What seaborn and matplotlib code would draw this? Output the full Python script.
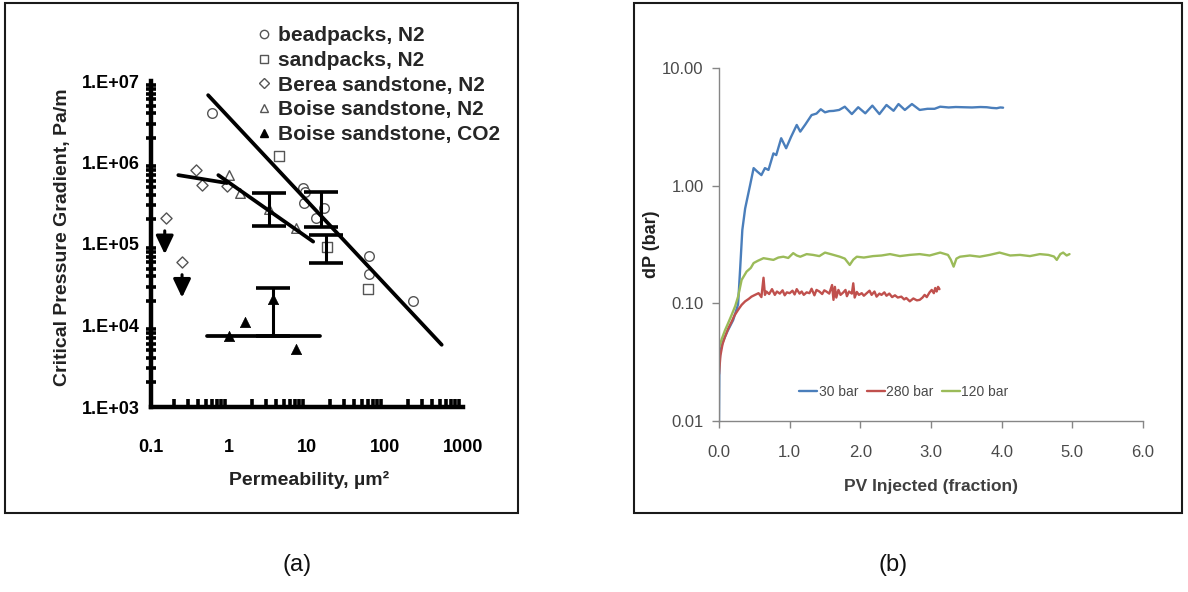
import numpy as np
import pandas as pd
import seaborn as sns
import matplotlib
matplotlib.use("Agg")
import matplotlib.pyplot as plt
from matplotlib.lines import Line2D
from matplotlib.patches import Rectangle
from matplotlib.ticker import LogLocator, NullLocator
from matplotlib import font_manager

# ---------------- data: panel (a) ----------------
bead_k = [0.61, 8.9, 9.5, 9.2, 16.4, 13.2, 62.5, 63.0, 230.0]
bead_g = [4.1e6, 4.9e5, 4.4e5, 3.2e5, 2.8e5, 2.1e5, 7.1e4, 4.3e4, 2.0e4]
sand_k = [4.4, 18.0, 61.0]
sand_g = [1.2e6, 9.1e4, 2.8e4]
berea_k = [0.38, 0.45, 0.156, 0.25, 0.93]
berea_g = [8.1e5, 5.3e5, 2.1e5, 6.0e4, 5.1e5]
boise_n2_k = [1.0, 1.4, 3.3, 7.3]
boise_n2_g = [7.0e5, 4.2e5, 2.7e5, 1.55e5]
boise_co2_k = [1.6, 1.0, 3.7, 7.3]
boise_co2_g = [1.1e4, 7.4e3, 2.1e4, 5.1e3]

err_k = [3.3, 15.0, 17.5, 3.7]
err_mid = [2.65e5, 2.6e5, 8.7e4, 1.5e4]
err_lo = [1.66e5, 1.6e5, 5.8e4, 7.4e3]
err_hi = [4.2e5, 4.3e5, 1.3e5, 2.9e4]

arrow_k = [0.15, 0.25]
arrow_from = [1.45e5, 4.2e4]
arrow_to = [7.5e4, 2.2e4]

fit_all_k = [0.54, 533.0]
fit_all_g = [6.7e6, 5.8e3]
fit_boise_k = [0.73, 12.0]
fit_boise_g = [7.0e5, 1.07e5]
fit_berea_k = [0.224, 0.94]
fit_berea_g = [7.0e5, 5.6e5]
fit_co2_k = [0.52, 14.7]
fit_co2_g = [7.5e3, 7.5e3]

a_xticks = [0.1, 1, 10, 100, 1000]
a_xticklabels = ["0.1", "1", "10", "100", "1000"]
a_yticks = [1e3, 1e4, 1e5, 1e6, 1e7]
a_yticklabels = ["1.E+03", "1.E+04", "1.E+05", "1.E+06", "1.E+07"]
a_legend = ["beadpacks, N2", "sandpacks, N2", "Berea sandstone, N2",
            "Boise sandstone, N2", "Boise sandstone, CO2"]

# ---------------- data: panel (b) ----------------
pv_30 = [0.00, 0.005, 0.02, 0.06, 0.12, 0.20, 0.27, 0.30, 0.33, 0.37,
         0.44, 0.49, 0.54, 0.60, 0.65, 0.70, 0.77, 0.81, 0.88, 0.95,
         1.02, 1.10, 1.15, 1.22, 1.31, 1.38, 1.44, 1.50, 1.56, 1.62,
         1.70, 1.78, 1.88, 1.97, 2.07, 2.17, 2.27, 2.37, 2.47, 2.54,
         2.63, 2.73, 2.84, 2.95, 3.05, 3.13, 3.25, 3.35, 3.46, 3.58,
         3.70, 3.79, 3.86, 3.93, 3.98, 4.02]
dp_30 = [0.010, 0.030, 0.040, 0.048, 0.058, 0.072, 0.098, 0.20, 0.42, 0.64,
         1.01, 1.41, 1.32, 1.23, 1.41, 1.36, 1.88, 1.82, 2.53, 2.08,
         2.60, 3.28, 2.88, 3.30, 3.98, 4.10, 4.46, 4.20, 4.30, 4.32,
         4.40, 4.69, 4.06, 4.64, 4.12, 4.79, 4.06, 4.85, 4.33, 4.94,
         4.40, 4.94, 4.40, 4.50, 4.50, 4.69, 4.62, 4.66, 4.64, 4.62,
         4.66, 4.64, 4.58, 4.55, 4.62, 4.60]

pv_280 = [0.00, 0.02, 0.05, 0.085, 0.13, 0.18, 0.22, 0.27, 0.32, 0.37,
          0.42, 0.46, 0.51, 0.56, 0.60, 0.63, 0.65, 0.67, 0.71, 0.75,
          0.79, 0.82, 0.86, 0.90, 0.93, 0.96, 1.00, 1.04, 1.07, 1.10,
          1.14, 1.17, 1.20, 1.24, 1.28, 1.31, 1.35, 1.38, 1.42, 1.46,
          1.49, 1.52, 1.56, 1.60, 1.62, 1.64, 1.66, 1.69, 1.72, 1.76,
          1.79, 1.81, 1.84, 1.88, 1.90, 1.92, 1.95, 1.98, 2.02, 2.05,
          2.09, 2.13, 2.16, 2.20, 2.23, 2.27, 2.30, 2.34, 2.37, 2.41,
          2.45, 2.49, 2.53, 2.58, 2.62, 2.65, 2.70, 2.75, 2.80, 2.84,
          2.88, 2.91, 2.94, 2.98, 3.01, 3.04, 3.06, 3.08, 3.10, 3.12]
dp_280 = [0.025, 0.036, 0.045, 0.052, 0.061, 0.070, 0.079, 0.088, 0.097, 0.104,
          0.109, 0.114, 0.118, 0.122, 0.113, 0.165, 0.118, 0.126, 0.120, 0.132,
          0.118, 0.126, 0.121, 0.129, 0.117, 0.124, 0.122, 0.128, 0.119, 0.132,
          0.121, 0.126, 0.118, 0.124, 0.122, 0.133, 0.117, 0.130, 0.126, 0.120,
          0.129, 0.126, 0.121, 0.143, 0.107, 0.138, 0.112, 0.130, 0.118, 0.124,
          0.130, 0.115, 0.126, 0.121, 0.148, 0.112, 0.125, 0.118, 0.122, 0.116,
          0.122, 0.128, 0.118, 0.126, 0.114, 0.121, 0.118, 0.124, 0.116, 0.121,
          0.113, 0.117, 0.112, 0.114, 0.108, 0.111, 0.104, 0.110, 0.106, 0.107,
          0.112, 0.118, 0.113, 0.124, 0.130, 0.122, 0.135, 0.126, 0.138, 0.132]

pv_120 = [0.00, 0.04, 0.085, 0.13, 0.18, 0.23, 0.27, 0.32, 0.39, 0.45,
          0.49, 0.55, 0.63, 0.70, 0.77, 0.84, 0.91, 0.98, 1.05, 1.10,
          1.15, 1.24, 1.33, 1.42, 1.50, 1.60, 1.71, 1.78, 1.85, 1.90,
          1.95, 2.05, 2.18, 2.30, 2.42, 2.56, 2.70, 2.84, 2.98, 3.13,
          3.24, 3.28, 3.32, 3.36, 3.41, 3.55, 3.69, 3.83, 3.97, 4.12,
          4.26, 4.40, 4.54, 4.66, 4.74, 4.78, 4.83, 4.87, 4.92, 4.96]
dp_120 = [0.042, 0.050, 0.059, 0.068, 0.080, 0.095, 0.114, 0.158, 0.186, 0.200,
          0.220, 0.230, 0.242, 0.238, 0.234, 0.245, 0.249, 0.243, 0.267, 0.255,
          0.249, 0.262, 0.258, 0.252, 0.270, 0.260, 0.249, 0.240, 0.212, 0.235,
          0.249, 0.245, 0.252, 0.255, 0.262, 0.252, 0.258, 0.262, 0.255, 0.270,
          0.258, 0.235, 0.205, 0.240, 0.249, 0.255, 0.249, 0.258, 0.270, 0.255,
          0.258, 0.252, 0.262, 0.258, 0.250, 0.234, 0.262, 0.270, 0.255, 0.262]

b_series = ["30 bar", "280 bar", "120 bar"]
b_colors = ["#4a7ebb", "#c0504d", "#9bbb59"]
b_xticks = [0, 1, 2, 3, 4, 5, 6]
b_yticks = [0.01, 0.1, 1, 10]

# ---------------- style ----------------
sns.set_theme(style="white")
names = {f.name for f in font_manager.fontManager.ttflist}
SANS = "Liberation Sans" if "Liberation Sans" in names else "DejaVu Sans"
NARROW = "Liberation Sans Narrow" if "Liberation Sans Narrow" in names else SANS
plt.rcParams["font.family"] = [SANS, "DejaVu Sans"]

W, H = 1188, 592
fig = plt.figure(figsize=(W / 100, H / 100), dpi=100)

# ================= panel (a) =================
ax_a = fig.add_axes([151 / W, 1 - 407 / H, 312 / W, 326 / H])
ax_a.set_xscale("log")
ax_a.set_yscale("log")

for kx, ky, mk in [(bead_k, bead_g, "o"), (sand_k, sand_g, "s"),
                   (berea_k, berea_g, "D"), (boise_n2_k, boise_n2_g, "^")]:
    sz = 32 if mk == "D" else 48
    sns.scatterplot(x=kx, y=ky, marker=mk, s=sz, color="white",
                    edgecolor="#555555", linewidth=1.0, ax=ax_a, zorder=3)
sns.scatterplot(x=boise_co2_k, y=boise_co2_g, marker="^", s=55, color="black",
                edgecolor="black", linewidth=0.5, ax=ax_a, zorder=3)

for fxv, fyv in [(fit_all_k, fit_all_g), (fit_boise_k, fit_boise_g),
                 (fit_berea_k, fit_berea_g), (fit_co2_k, fit_co2_g)]:
    sns.lineplot(x=fxv, y=fyv, color="black", lw=2.7, ax=ax_a,
                 estimator=None, sort=False, zorder=4)

mid = np.array(err_mid)
ax_a.errorbar(err_k, mid, yerr=[mid - np.array(err_lo), np.array(err_hi) - mid],
              fmt="none", ecolor="black", elinewidth=2.2, capsize=12, capthick=2.6,
              zorder=5)

for xk, y0, y1 in zip(arrow_k, arrow_from, arrow_to):
    ax_a.annotate("", xy=(xk, y1), xytext=(xk, y0),
                  arrowprops=dict(arrowstyle="-|>,head_width=0.38,head_length=0.8",
                                  color="black", lw=2.2, mutation_scale=14,
                                  shrinkA=0, shrinkB=0))

ax_a.set_xlim(0.1, 1000)
ax_a.set_ylim(1e3, 1e7)
ax_a.set_xticks(a_xticks, labels=a_xticklabels, fontweight="bold", fontsize=13)
ax_a.set_yticks(a_yticks, labels=a_yticklabels, fontweight="bold", fontsize=13)
ax_a.xaxis.set_minor_locator(LogLocator(base=10, subs=np.arange(2, 10), numticks=20))
ax_a.yaxis.set_minor_locator(LogLocator(base=10, subs=np.arange(2, 10), numticks=20))
ax_a.tick_params(axis="both", which="major", direction="inout", length=12,
                 width=2.6, color="black", labelcolor="black")
ax_a.tick_params(axis="x", which="major", pad=17)
ax_a.tick_params(axis="y", which="major", pad=2)
ax_a.tick_params(axis="y", which="minor", direction="inout", length=7, width=2.6,
                 color="black", left=True)
ax_a.tick_params(axis="x", which="minor", direction="in", length=6, width=2.6,
                 color="black", bottom=True)
for s in ["top", "right"]:
    ax_a.spines[s].set_visible(False)
for s in ["left", "bottom"]:
    ax_a.spines[s].set_color("black")
    ax_a.spines[s].set_linewidth(3.2)
ax_a.set_facecolor("none")

ax_a.set_xlabel("Permeability, \u00b5m\u00b2", fontsize=14, fontweight="bold",
                color="#222222")
ax_a.xaxis.set_label_coords(0.506, -0.195)
ax_a.set_ylabel("Critical Pressure Gradient, Pa/m", fontsize=14,
                fontweight="bold", color="#222222")
ax_a.yaxis.set_label_coords(-0.255, 0.52)

handles = [
    Line2D([], [], ls="none", marker="o", ms=6, mfc="white", mec="#555555", mew=1),
    Line2D([], [], ls="none", marker="s", ms=6, mfc="white", mec="#555555", mew=1),
    Line2D([], [], ls="none", marker="D", ms=5, mfc="white", mec="#555555", mew=1),
    Line2D([], [], ls="none", marker="^", ms=6, mfc="white", mec="#555555", mew=1),
    Line2D([], [], ls="none", marker="^", ms=6, mfc="black", mec="black", mew=1),
]
leg_a = ax_a.legend(handles, a_legend, loc="upper left",
                    bbox_to_anchor=(258 / W, 1 - 26 / H),
                    bbox_transform=fig.transFigure, frameon=False,
                    prop=dict(family=SANS, weight="bold", size=15),
                    handlelength=0.6, handletextpad=0.35, labelspacing=0.28,
                    borderpad=0, borderaxespad=0)

# ================= panel (b) =================
ax_b = fig.add_axes([719 / W, 1 - 421 / H, 424 / W, 353 / H])
for xs, ys, lab, col in [(pv_30, dp_30, b_series[0], b_colors[0]),
                         (pv_280, dp_280, b_series[1], b_colors[1]),
                         (pv_120, dp_120, b_series[2], b_colors[2])]:
    sns.lineplot(x=xs, y=ys, color=col, lw=1.7, label=lab, ax=ax_b,
                 estimator=None, sort=False)
ax_b.set_yscale("log")
ax_b.set_xlim(0, 6)
ax_b.set_ylim(0.01, 10)
ax_b.set_xticks(b_xticks, labels=["%.1f" % v for v in b_xticks],
                family=NARROW, fontsize=12)
ax_b.set_yticks(b_yticks, labels=["%.2f" % v for v in b_yticks],
                family=NARROW, fontsize=12)
ax_b.yaxis.set_minor_locator(NullLocator())
ax_b.tick_params(axis="both", which="major", direction="out", length=5, width=1,
                 color="#868686", labelcolor="#4a4a4a", left=True, bottom=True)
ax_b.tick_params(axis="x", pad=12)
ax_b.tick_params(axis="y", pad=6)
for s in ["top", "right"]:
    ax_b.spines[s].set_visible(False)
for s in ["left", "bottom"]:
    ax_b.spines[s].set_color("#868686")
    ax_b.spines[s].set_linewidth(1.0)
ax_b.set_facecolor("none")
ax_b.set_xlabel("PV Injected (fraction)", fontsize=12.5, fontweight="bold",
                family=NARROW, color="#404040")
ax_b.xaxis.set_label_coords(0.5, -0.165)
ax_b.set_ylabel("dP (bar)", fontsize=13, fontweight="bold", family=SANS,
                color="#202020")
ax_b.yaxis.set_label_coords(-0.138, 0.5)
ax_b.legend(loc="center", bbox_to_anchor=(0.436, 0.082), ncol=3, frameon=False,
            handlelength=1.3, handletextpad=0.1, columnspacing=0.6,
            prop=dict(family=NARROW, size=10), labelcolor="#4a4a4a")

# ================= frames & captions =================
fig.add_artist(Rectangle((5 / W, 1 - 513 / H), 513 / W, 510 / H,
                         transform=fig.transFigure, fill=False, lw=1.5,
                         ec="#1a1a1a"))
fig.add_artist(Rectangle((634 / W, 1 - 513 / H), 548 / W, 510 / H,
                         transform=fig.transFigure, fill=False, lw=1.5,
                         ec="#1a1a1a"))
fig.text(297 / W, 1 - 565 / H, "(a)", ha="center", va="center", fontsize=17,
         family=SANS, color="#111111")
fig.text(893 / W, 1 - 565 / H, "(b)", ha="center", va="center", fontsize=17,
         family=SANS, color="#111111")

fig.savefig("out.png", dpi=100, facecolor="white")
